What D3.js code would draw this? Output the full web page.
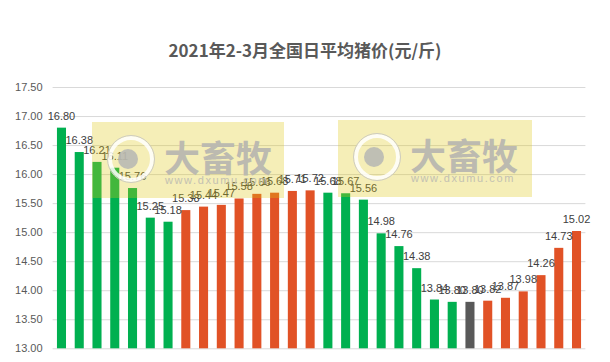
<!DOCTYPE html>
<html>
<head>
<meta charset="utf-8">
<script src="https://cdn.jsdelivr.net/npm/d3@7"></script>
<style>
  body { margin: 0; background: #fff; }
  text { font-family: "Liberation Sans", Arial, sans-serif; }
</style>
</head>
<body>
<div id="chart"></div>
<script>
// daily prices, one per bar
const prices = [16.80, 16.38, 16.21, 16.11, 15.76, 15.25, 15.18, 15.38, 15.44, 15.47,
  15.58, 15.66, 15.68, 15.71, 15.72, 15.68, 15.67, 15.56, 14.98, 14.76,
  14.38, 13.84, 13.80, 13.80, 13.82, 13.87, 13.98, 14.26, 14.73, 15.02];
// trend of each bar: down / up / flat
const trend = ["d","d","d","d","d","d","d","u","u","u",
  "u","u","u","u","u","d","d","d","d","d",
  "d","d","d","f","u","u","u","u","u","u"];
const yTicks = [13.00, 13.50, 14.00, 14.50, 15.00, 15.50, 16.00, 16.50, 17.00, 17.50];
const title = "2021年2-3月全国日平均猪价(元/斤)";

const width = 610, height = 362,
  margin = { top: 87, bottom: 13.7, left: 52.6, right: 24.6 };

const colors = { d: "#00b050", u: "#e15226", f: "#595959" };

const svg = d3.select("#chart").append("svg")
  .attr("width", width)
  .attr("height", height);

const x = d3.scaleBand()
  .domain(d3.range(prices.length))
  .range([margin.left, width - margin.right])
  .paddingInner(0.49)
  .paddingOuter(0.245);

const y = d3.scaleLinear()
  .domain([13, 17.5])
  .range([height - margin.bottom, margin.top]);

// title
svg.append("text")
  .attr("x", 305)
  .attr("y", 57)
  .attr("text-anchor", "middle")
  .attr("fill", "#595959")
  .style("font-family", "'Noto Sans CJK SC', sans-serif")
  .style("font-size", "17px")
  .style("font-weight", "bold")
  .text(title);

// grid + y axis
const yAxis = d3.axisLeft(y)
  .tickValues(yTicks)
  .tickFormat(d3.format(".2f"))
  .tickSize(-(width - margin.left - margin.right))
  .tickPadding(10);

const gy = svg.append("g")
  .attr("transform", `translate(${margin.left},0)`)
  .call(yAxis);
gy.select(".domain").remove();
gy.selectAll(".tick line").attr("stroke", "#d9d9d9");
gy.selectAll(".tick text")
  .attr("fill", "#595959")
  .style("font-size", "11px")
  .style("font-family", "'Liberation Sans', Arial, sans-serif");

// bars
svg.selectAll("rect.bar")
  .data(prices)
  .join("rect")
  .attr("class", "bar")
  .attr("x", (d, i) => x(i))
  .attr("y", d => y(d))
  .attr("width", x.bandwidth())
  .attr("height", d => y(13) - y(d))
  .attr("fill", (d, i) => colors[trend[i]]);

// value labels
svg.selectAll("text.label")
  .data(prices)
  .join("text")
  .attr("class", "label")
  .attr("x", (d, i) => x(i) + x.bandwidth() / 2)
  .attr("y", d => y(d) - 8)
  .attr("text-anchor", "middle")
  .attr("fill", "#404040")
  .style("font-size", "11px")
  .text(d => d.toFixed(2));

// watermarks
const marks = [{ x: 92, y: 122, w: 192, h: 76 }, { x: 338, y: 120, w: 194, h: 77 }];
marks.forEach(m => {
  const g = svg.append("g").attr("transform", `translate(${m.x},${m.y})`);
  g.append("rect")
    .attr("width", m.w).attr("height", m.h)
    .attr("fill", "#dec612")
    .attr("opacity", 0.3);
  g.append("circle")
    .attr("cx", 39).attr("cy", 37).attr("r", 21)
    .attr("fill", "none").attr("stroke", "#fff")
    .attr("stroke-width", 4).attr("opacity", 0.85);
  g.append("circle")
    .attr("cx", 39).attr("cy", 37).attr("r", 23.5)
    .attr("fill", "none").attr("stroke", "#cfcdbf")
    .attr("stroke-width", 1);
  g.append("circle")
    .attr("cx", 36).attr("cy", 37).attr("r", 10)
    .attr("fill", "#b9b9b4").attr("opacity", 0.9);
  g.append("text")
    .attr("x", 72).attr("y", 50)
    .attr("fill", "#bcbab0")
    .style("font-family", "'Noto Sans CJK SC', sans-serif")
    .style("font-size", "36px")
    .style("font-weight", "bold")
    .text("大畜牧");
  g.append("text")
    .attr("x", 73).attr("y", 62)
    .attr("fill", "#c3c1b2")
    .style("font-size", "11px")
    .style("letter-spacing", "1.6px")
    .text("www.dxumu.com");
});
</script>
</body>
</html>
